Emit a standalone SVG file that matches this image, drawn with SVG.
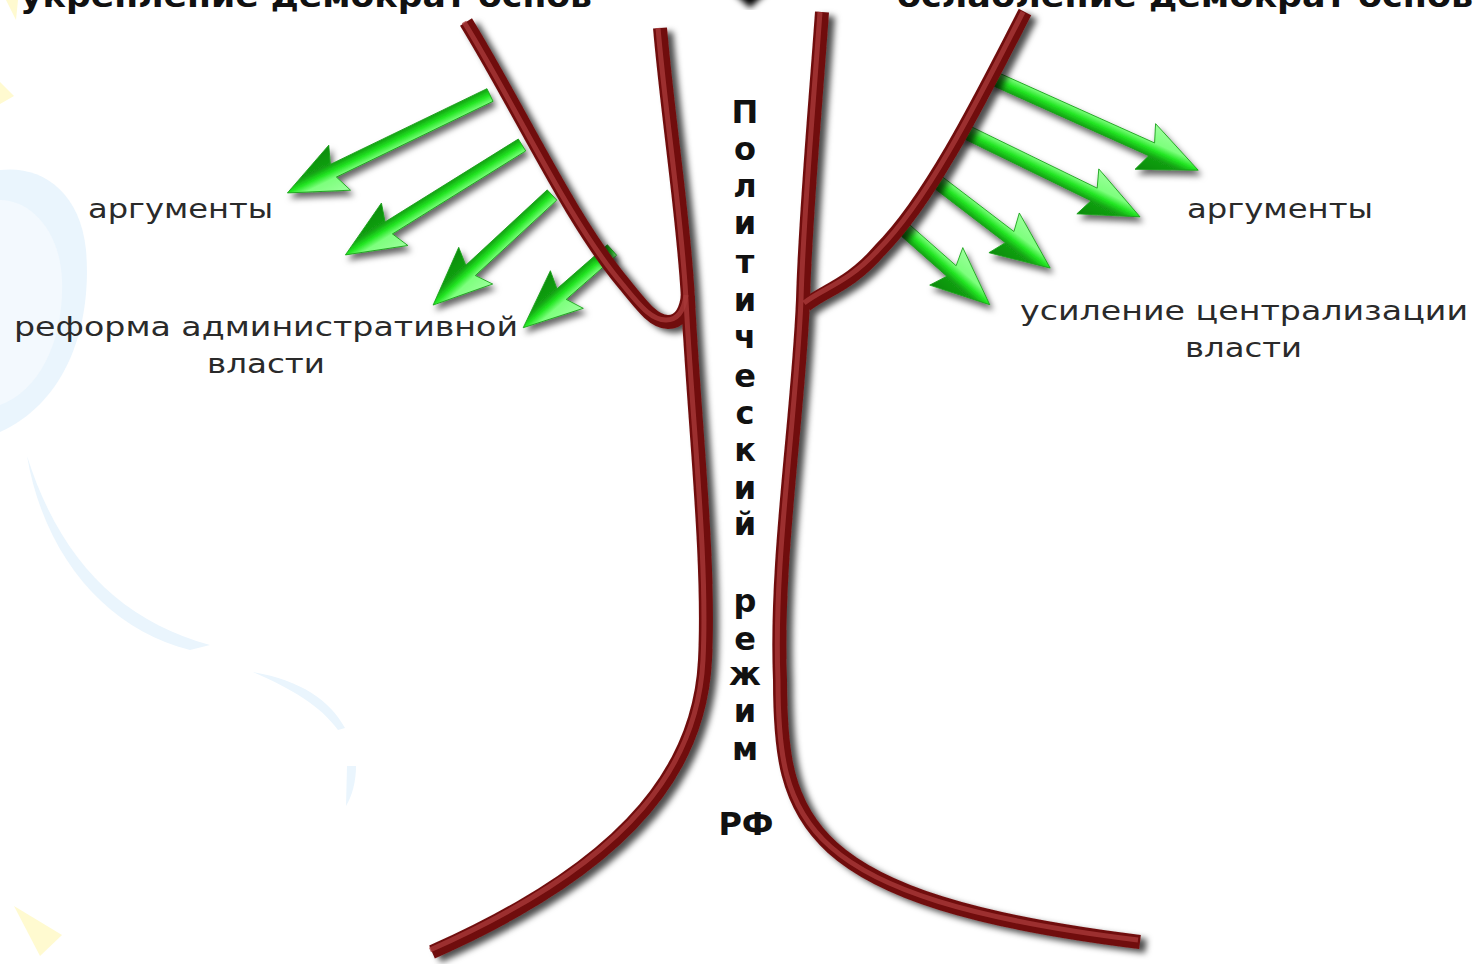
<svg xmlns="http://www.w3.org/2000/svg" width="1474" height="964" viewBox="0 0 1474 964">
<style>
.tube{fill:none;stroke:#701010;stroke-width:14;stroke-linecap:butt;stroke-linejoin:round}
.tubehi{fill:none;stroke:#a83838;stroke-width:5;stroke-linecap:butt;stroke-linejoin:round;opacity:.8}
.arrow{fill:url(#gArrow);stroke:#17a017;stroke-width:0.8}
.lbl{font-family:"DejaVu Sans","Noto Sans",sans-serif;font-size:26px;fill:#2a2a2a}
.head{font-family:"DejaVu Sans","Noto Sans",sans-serif;font-size:32px;font-weight:bold;fill:#111}
.vert{font-family:"DejaVu Sans","Noto Sans",sans-serif;font-size:32px;font-weight:bold;fill:#111;text-anchor:middle}
.bgb{fill:#eaf5fd}
.bgy{fill:#fffad0}
</style>
<defs>
<filter id="sh" x="-30%" y="-30%" width="170%" height="170%">
<feDropShadow dx="6" dy="4" stdDeviation="3" flood-color="#000" flood-opacity="0.7"/>
</filter>
<filter id="shA" x="-30%" y="-30%" width="170%" height="170%">
<feDropShadow dx="3" dy="5" stdDeviation="3" flood-color="#000" flood-opacity="0.6"/>
</filter>
<filter id="blur"><feGaussianBlur stdDeviation="3"/></filter>
<linearGradient id="gArrow" gradientUnits="userSpaceOnUse" x1="0" y1="-25" x2="0" y2="25">
<stop offset="0" stop-color="#9dff9d"/>
<stop offset="0.36" stop-color="#7dff7d"/>
<stop offset="0.5" stop-color="#22e622"/>
<stop offset="0.64" stop-color="#12a012"/>
<stop offset="1" stop-color="#0c8a0c"/>
</linearGradient>
</defs>
<rect width="1474" height="964" fill="#fff"/>
<g id="background">
<path class="bgb" d="M0 170 C40 165 80 190 86 250 C92 320 70 400 0 432 Z"/>
<path d="M0 200 C30 200 60 230 62 280 C64 340 40 390 0 405 Z" fill="#f3f9fe"/>
<path class="bgb" d="M27 456 C60 560 120 620 210 645 L190 650 C110 630 45 560 27 456 Z"/>
<path class="bgb" d="M253 672 C300 680 330 700 345 728 L338 730 C320 705 290 688 253 672 Z"/>
<path class="bgb" d="M347 766 L356 766 C356 782 352 796 346 806 Z"/>
<path class="bgy" d="M0 82 L14 96 L0 104 Z"/>
<path class="bgy" d="M14 906 L62 935 L40 956 Z"/>
<path class="bgy" d="M6 0 L18 0 L16 20 Z"/>
</g>
<g id="titles">
<text class="head" x="20" y="7" textLength="572" lengthAdjust="spacingAndGlyphs">укрепление демократ основ</text>
<text class="head" x="897" y="7" textLength="576" lengthAdjust="spacingAndGlyphs">ослабление демократ основ</text>
<path d="M728 -12 L772 -12 L750 8 Z" fill="#000" filter="url(#blur)"/>
</g>
<g id="arrows-left" filter="url(#shA)">
<path class="arrow" transform="translate(490 95) rotate(154.2)" d="M0,-7 H174 L167,-25 L225,0 L167,25 L174,7 H0 Z"/>
<path class="arrow" transform="translate(522 145) rotate(148.1)" d="M0,-7 H157 L150,-25 L208,0 L150,25 L157,7 H0 Z"/>
<path class="arrow" transform="translate(552 195) rotate(137.2)" d="M0,-7 H111 L104,-25 L162,0 L104,25 L111,7 H0 Z"/>
<path class="arrow" transform="translate(612 250) rotate(138.8)" d="M0,-7 H67 L60,-25 L118,0 L60,25 L67,7 H0 Z"/>
</g>
<g id="arrows-right" filter="url(#shA)">
<path class="arrow" transform="translate(993 78) rotate(24.2)" d="M0,-7 H174 L167,-25 L225,0 L167,25 L174,7 H0 Z"/>
<path class="arrow" transform="translate(962 130) rotate(26)" d="M0,-7 H147 L140,-25 L198,0 L140,25 L147,7 H0 Z"/>
<path class="arrow" transform="translate(935 180) rotate(37.4)" d="M0,-7 H94 L87,-25 L145,0 L87,25 L94,7 H0 Z"/>
<path class="arrow" transform="translate(905 230) rotate(41.4)" d="M0,-7 H62 L55,-25 L113,0 L55,25 L62,7 H0 Z"/>
</g>
<g id="connectors">
<g filter="url(#sh)">
<path class="tube" id="left-stem" d="M660 28 C668 120, 684 220, 688 300 C694 420, 710 560, 705 660 C700 760, 640 860, 432 952"/>
<path class="tube" id="left-branch" d="M466 22 C520 110, 570 220, 625 285 C645 310, 655 322, 668 322 C680 322, 686 312, 688 295"/>
<path class="tube" id="right-stem" d="M822 12 C815 110, 805 220, 803 300 C798 420, 775 560, 780 680 C780 820, 800 900, 1140 942"/>
<path class="tube" id="right-branch" d="M1025 12 C980 100, 930 200, 880 250 C850 285, 825 290, 806 305"/>
</g>
<path class="tubehi" d="M658 28 C666 120, 682 220, 686 300 C692 420, 708 560, 703 660 C698 760, 638 858, 430 950"/>
<path class="tubehi" d="M464 22 C518 110, 568 220, 623 285 C643 310, 653 320, 666 320 C678 320, 684 310, 686 295"/>
<path class="tubehi" d="M820 12 C813 110, 803 220, 801 300 C796 420, 773 560, 778 680 C778 820, 798 898, 1138 940"/>
<path class="tubehi" d="M1023 12 C978 100, 928 200, 878 250 C848 283, 823 288, 804 303"/>
</g>
<g id="label-left">
<text class="lbl" x="88" y="218" textLength="185" lengthAdjust="spacingAndGlyphs">аргументы</text>
<text class="lbl" x="14" y="336" textLength="504" lengthAdjust="spacingAndGlyphs">реформа административной</text>
<text class="lbl" x="207" y="373" textLength="118" lengthAdjust="spacingAndGlyphs">власти</text>
</g>
<g id="label-right">
<text class="lbl" x="1187" y="218" textLength="186" lengthAdjust="spacingAndGlyphs">аргументы</text>
<text class="lbl" x="1020" y="320" textLength="448" lengthAdjust="spacingAndGlyphs">усиление централизации</text>
<text class="lbl" x="1185" y="357" textLength="117" lengthAdjust="spacingAndGlyphs">власти</text>
</g>
<g id="center-label">
<text class="vert" x="745" y="123">П</text>
<text class="vert" x="745" y="160">о</text>
<text class="vert" x="745" y="197">л</text>
<text class="vert" x="745" y="234">и</text>
<text class="vert" x="745" y="273">т</text>
<text class="vert" x="745" y="311">и</text>
<text class="vert" x="745" y="348">ч</text>
<text class="vert" x="745" y="387">е</text>
<text class="vert" x="745" y="424">с</text>
<text class="vert" x="745" y="461">к</text>
<text class="vert" x="745" y="499">и</text>
<text class="vert" x="745" y="535">й</text>
<text class="vert" x="745" y="612">р</text>
<text class="vert" x="745" y="650">е</text>
<text class="vert" x="745" y="685">ж</text>
<text class="vert" x="745" y="722">и</text>
<text class="vert" x="745" y="760">м</text>
<text class="vert" x="746" y="835">РФ</text>
</g>
</svg>
